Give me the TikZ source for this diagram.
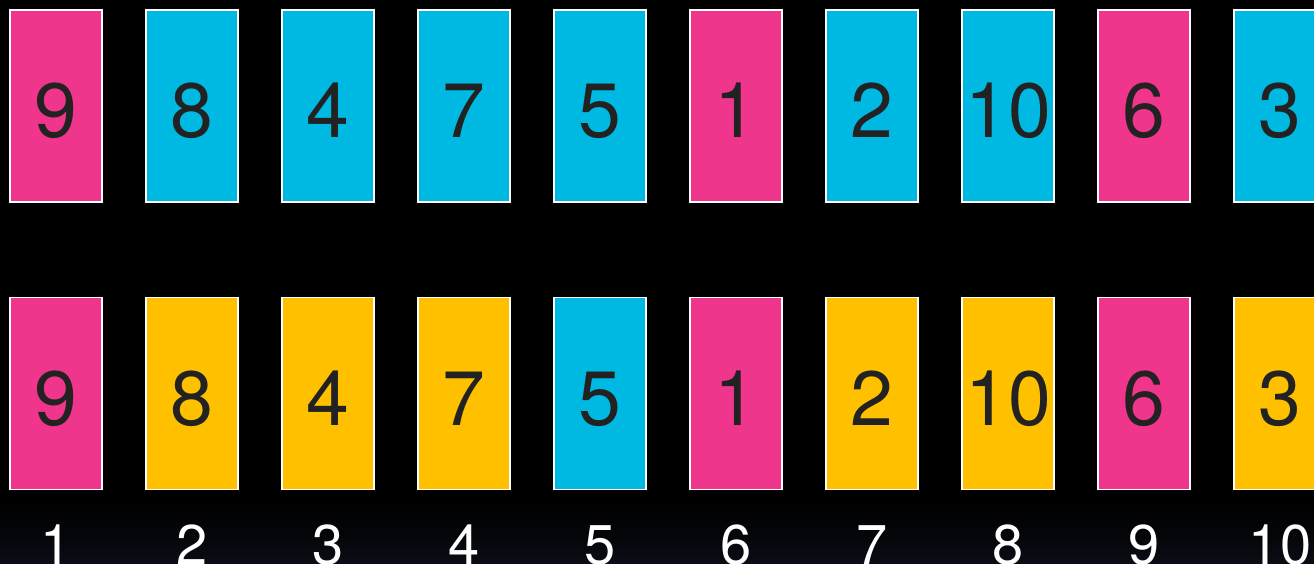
\documentclass[tikz,border=0pt]{standalone}
\usepackage{fontspec}
\setmainfont{TeX Gyre Heros}
\definecolor{pinkc}{HTML}{F0368C}
\definecolor{cyanc}{HTML}{00B9E3}
\definecolor{yellc}{HTML}{FFC000}
\definecolor{digc}{HTML}{222222}
\definecolor{navy}{HTML}{0A0D15}
\begin{document}
\begin{tikzpicture}[x=1pt,y=-1pt,
  card/.style={draw=white,line width=1.3pt,minimum width=92pt,minimum height=192pt,inner sep=0pt,
    font=\fontsize{77}{77}\selectfont,text=digc,text height=64pt,text depth=0pt},
  pk/.style={card,fill=pinkc},
  cy/.style={card,fill=cyanc},
  ye/.style={card,fill=yellc},
  idx/.style={anchor=base,text=white,font=\fontsize{56}{56}\selectfont,inner sep=0pt}]
\fill[black] (0,0) rectangle (1314,564);
\shade[top color=black,bottom color=navy,middle color=black!60!navy] (0,500) rectangle (1314,564);
\useasboundingbox (0,0) rectangle (1314,564);
\foreach \i/\v/\a/\b in {1/9/pk/pk,2/8/cy/ye,3/4/cy/ye,4/7/cy/ye,5/5/cy/cy,6/1/pk/pk,7/2/cy/ye,8/10/cy/ye,9/6/pk/pk,10/3/cy/ye}{
  \node[\a] (t\i) at ({56+136*(\i-1)},106) {\v};
  \node[\b] (b\i) at ({56+136*(\i-1)},393.5) {\v};
  \node[idx] (l\i) at ({56+136*(\i-1)},564) {\i};
}
\end{tikzpicture}
\end{document}
